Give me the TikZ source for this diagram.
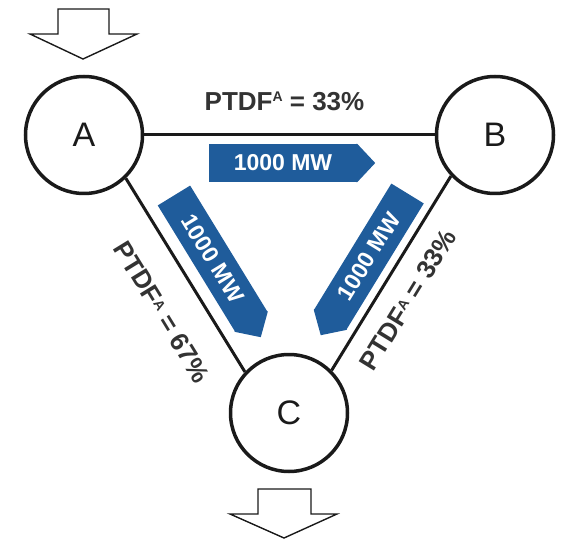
\documentclass[tikz,border=0pt]{standalone}
\usepackage{fontspec}
\setmainfont{Liberation Sans}
\usetikzlibrary{calc}
\definecolor{flowblue}{RGB}{31,92,155}
\definecolor{labelgray}{RGB}{51,51,51}
\definecolor{linegray}{RGB}{26,26,26}
\newcommand{\topsupA}{\raisebox{9.5pt}{\fontsize{14}{14}\selectfont A}}
\newcommand{\sidesupA}{\raisebox{5.5pt}{\fontsize{14}{14}\selectfont A}}
\begin{document}
\begin{tikzpicture}[x=1pt,y=-1pt,
  bus/.style={circle, draw=linegray, line width=3.5pt, minimum size=117pt, inner sep=0pt,
    font=\fontsize{34}{34}\selectfont, text=linegray},
  tie/.style={draw=linegray, line width=3pt},
  flowbody/.style={fill=flowblue, text=white, minimum width=148pt, minimum height=38pt,
    inner sep=0pt, font=\bfseries\fontsize{23}{23}\selectfont},
  flowtip/.style={fill=flowblue},
  ptdf/.style={text=labelgray, inner sep=0pt, font=\bfseries\fontsize{26}{26}\selectfont},
  inj/.style={draw=linegray, line width=1.4pt, fill=white, line join=miter}]
\useasboundingbox (0,0) rectangle (565,540);

% injection / withdrawal arrows
\draw[inj] (58,9) -- (109,9) -- (109,34) -- (137,34) -- (83,59) -- (30,34) -- (58,34) -- cycle;
\draw[inj] (258,489) -- (311,489) -- (311,514) -- (337,514) -- (284,538) -- (230,514) -- (258,514) -- cycle;

% buses
\node[bus] (A) at (84,135) {A};
\node[bus] (B) at (495,135) {B};
\node[bus] (C) at (289,413) {C};

% lines
\draw[tie] (A.east) -- (B.west);
\draw[tie] (A.-46) -- (C.137);
\draw[tie] (B.223) -- (C.45);

% flow arrows
\node[flowbody] (f1) at (283,163) {1000 MW};
\fill[flowtip] ($(f1.north east)!1pt!(f1.north west)$) -- (f1.north east)
  -- ($(f1.east)!18pt!-90:(f1.north east)$) -- (f1.south east)
  -- ($(f1.south east)!1pt!(f1.south west)$) -- cycle;

\node[flowbody, rotate=-58.5] (f2) at (212.6,258.6) {1000 MW};
\fill[flowtip] ($(f2.north east)!1pt!(f2.north west)$) -- (f2.north east)
  -- ($(f2.east)!18pt!-90:(f2.north east)$) -- (f2.south east)
  -- ($(f2.south east)!1pt!(f2.south west)$) -- cycle;

\node[flowbody, rotate=58.5] (f3) at (368.9,256.6) {1000 MW};
\fill[flowtip] ($(f3.north west)!1pt!(f3.north east)$) -- (f3.north west)
  -- ($(f3.west)!18pt!90:(f3.north west)$) -- (f3.south west)
  -- ($(f3.south west)!1pt!(f3.south east)$) -- cycle;

% PTDF labels
\node[ptdf, anchor=base] (p1) at (284.5,111) {PTDF\topsupA{} = 33\%};
\node[ptdf, rotate=-58.5] (p2) at (162,312) {PTDF\sidesupA{} = 67\%};
\node[ptdf, rotate=58.5] (p3) at (408,300) {PTDF\sidesupA{} = 33\%};
\end{tikzpicture}
\end{document}
